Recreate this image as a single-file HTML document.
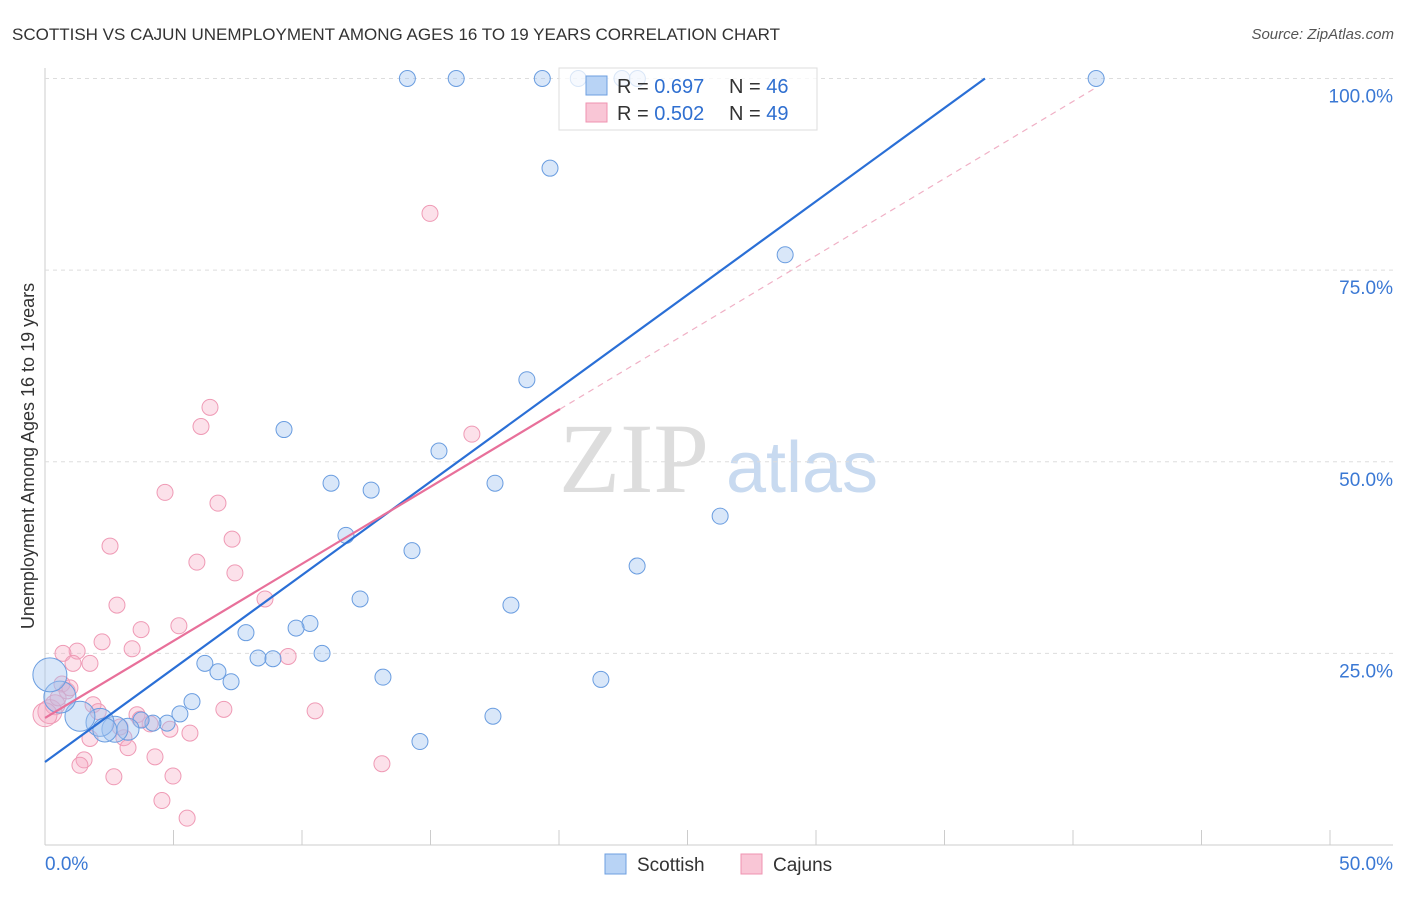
<!DOCTYPE html>
<html><head><meta charset="utf-8"><style>
body{margin:0;background:#fff;font-family:"Liberation Sans",sans-serif}
</style></head><body>
<svg id="c" width="1406" height="892" font-family="Liberation Sans, sans-serif">
<text x="12" y="40" font-size="17" fill="#333">SCOTTISH VS CAJUN UNEMPLOYMENT AMONG AGES 16 TO 19 YEARS CORRELATION CHART</text>
<text x="1394" y="39" font-size="15" fill="#555" text-anchor="end" font-style="italic">Source: ZipAtlas.com</text>
<text x="634" y="492" font-size="100" fill="#ddd" style="font-family:'Liberation Serif',serif" text-anchor="middle">ZIP</text>
<text x="802" y="492" font-size="72" fill="#c8daf0" text-anchor="middle">atlas</text>
<text transform="translate(34,456) rotate(-90)" font-size="18" fill="#333" text-anchor="middle">Unemployment Among Ages 16 to 19 years</text>
<g id="grid"></g><g id="marks"></g><g id="lines"></g>
<g>
<rect x="559" y="68" width="258" height="62" fill="rgba(255,255,255,0.75)" stroke="#ddd"/>
<rect x="586" y="76" width="21" height="19" fill="#b8d3f5" stroke="#6e9fe0"/>
<rect x="586" y="103" width="21" height="19" fill="#f9c6d6" stroke="#ef93b0"/>
<text x="617" y="93" font-size="20" fill="#333">R = <tspan fill="#2f6fd0">0.697</tspan></text>
<text x="729" y="93" font-size="20" fill="#333">N = <tspan fill="#2f6fd0">46</tspan></text>
<text x="617" y="120" font-size="20" fill="#333">R = <tspan fill="#2f6fd0">0.502</tspan></text>
<text x="729" y="120" font-size="20" fill="#333">N = <tspan fill="#2f6fd0">49</tspan></text>
</g>
<g>
<rect x="605" y="854" width="21" height="20" fill="#b8d3f5" stroke="#6e9fe0"/>
<text x="637" y="871" font-size="19" fill="#333">Scottish</text>
<rect x="741" y="854" width="21" height="20" fill="#f9c6d6" stroke="#ef93b0"/>
<text x="773" y="871" font-size="19" fill="#333">Cajuns</text>
</g>
<text x="45" y="870" font-size="19" fill="#3a78d4">0.0%</text>
<text x="1393" y="870" font-size="19" fill="#3a78d4" text-anchor="end">50.0%</text>
</svg>
<script>
const yTicks=[25,50,75,100];
const yTickLabels=["25.0%","50.0%","75.0%","100.0%"];
const scotX=[14.1,16,19.35,20.75,22.45,23.05,40.9,19.65,28.8,18.75,9.3,15.33,11.13,12.69,17.51,26.27,11.71,14.28,23.04,12.26,18.13,10.31,9.77,7.82,10.78,8.29,8.87,6.22,6.73,7.24,13.15,21.63,5.72,5.25,17.43,4.75,4.2,3.74,14.59,3.23,2.72,2.14,1.36,0.58,0.19,2.33];
const scotY=[100,100,100,100,100,100,100,88.3,77,60.7,54.2,51.4,47.2,46.3,47.2,42.9,40.4,38.4,36.4,32.1,31.3,28.9,28.3,27.7,25,24.4,24.3,23.7,22.6,21.3,21.9,21.6,18.7,17.1,16.8,15.9,15.9,16.3,13.5,15.1,15.1,16,16.8,19.3,22.2,15];
const scotR=[8,8,8,8,8,8,8,8,8,8,8,8,8,8,8,8,8,8,8,8,8,8,8,8,8,8,8,8,8,8,8,8,8,8,8,8,8,8,8,11,13,14,15,16,17,12];
const cajX=[14.98,6.42,6.07,16.61,4.67,6.73,7.28,2.53,5.91,7.39,8.56,2.8,3.74,5.21,2.22,3.39,1.25,0.7,1.75,1.09,9.46,0.66,0.86,1.87,2.07,6.96,10.51,3.58,4.09,4.86,3.07,5.64,3.23,1.75,4.28,1.52,1.36,4.98,2.68,13.11,4.55,5.53,0.19,0.39,0,3.7,2.92,0.97,0.51];
const cajY=[82.4,57.1,54.6,53.6,46,44.6,39.9,39,36.9,35.5,32.1,31.3,28.1,28.6,26.5,25.6,25.3,25,23.7,23.7,24.6,21,20.1,18.3,17.4,17.7,17.5,17,15.8,15.1,14,14.6,12.7,13.9,11.5,11.1,10.4,9,8.9,10.6,5.8,3.5,17.4,18.3,17,16.4,15.4,20.5,19.2];
const cajR=[8,8,8,8,8,8,8,8,8,8,8,8,8,8,8,8,8,8,8,8,8,8,8,8,8,8,8,8,8,8,8,8,8,8,8,8,8,8,8,8,8,8,12,10,12,8,8,8,8];
const X=v=>45+v*25.7, Y=v=>845-v*7.665;
const NS="http://www.w3.org/2000/svg";
function mk(t,a,p){const e=document.createElementNS(NS,t);for(const k in a)e.setAttribute(k,a[k]);p.appendChild(e);return e;}
const g=document.getElementById('grid');
mk('line',{x1:45,y1:68,x2:45,y2:845,stroke:'#ccc'},g);
mk('line',{x1:45,y1:845,x2:1393,y2:845,stroke:'#ccc'},g);
yTicks.forEach((t,i)=>{
 const l=mk('line',{x1:45,y1:Y(t),x2:1393,y2:Y(t),stroke:'#ddd','stroke-dasharray':'4,4'},g);
 
 
 const tx=mk('text',{x:1393,y:Y(t)+24,'font-size':19,fill:'#3a78d4','text-anchor':'end'},g);
 tx.textContent=yTickLabels[i];
 
 
});
for(let i=0;i<=10;i++){const l=mk('line',{x1:X(i*5),y1:830,x2:X(i*5),y2:845,stroke:'#ccc'},g);
 
 }
const m=document.getElementById('marks');
cajX.forEach((x,i)=>{const c=mk('circle',{cx:X(x),cy:Y(cajY[i]),r:cajR[i],fill:'rgba(246,170,195,0.35)',stroke:'#ef9ab5','stroke-width':1},m);
 
 });
scotX.forEach((x,i)=>{const c=mk('circle',{cx:X(x),cy:Y(scotY[i]),r:scotR[i],fill:'rgba(160,196,240,0.4)',stroke:'#6a9de0','stroke-width':1},m);
 
 });
const L=document.getElementById('lines');
const bi=10.83,bs=2.438,pi=16.57,ps=2.011;
let l=mk('line',{x1:X(0),y1:Y(bi),x2:X((100-bi)/bs),y2:Y(100),stroke:'#2a6fd6','stroke-width':2.2},L);


l=mk('line',{x1:X(0),y1:Y(pi),x2:X(20.04),y2:Y(pi+ps*20.04),stroke:'#e8709a','stroke-width':2.2},L);


l=mk('line',{x1:X(20.04),y1:Y(pi+ps*20.04),x2:X(40.9),y2:Y(pi+ps*40.9),stroke:'#f0b0c5','stroke-width':1.2,'stroke-dasharray':'6,5'},L);


</script>
</body></html>
